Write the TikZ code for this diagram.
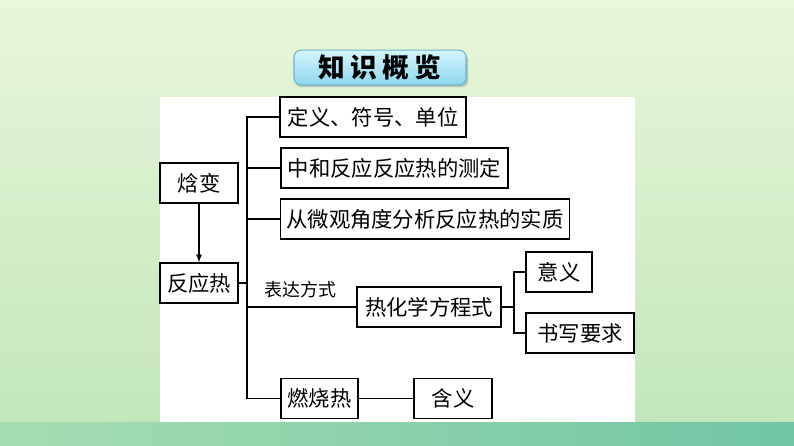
\documentclass[tikz,border=0pt]{standalone}
\usepackage{fontspec}
\usepackage{tikz}
\newfontfamily\cjk{Noto Sans CJK SC}

\tikzset{
  kbox/.style={draw=black, line width=1.1pt, fill=white, inner sep=0pt, minimum height=30pt, font=\cjk\fontsize{16}{16}\selectfont},
  kline/.style={line width=1pt, color=black},
}

\begin{document}
\begin{tikzpicture}[x=0.75pt,y=0.75pt,yscale=-1,xscale=1]
\useasboundingbox (0,0) rectangle (794,446);

%Background
\shade [top color={rgb, 255:red, 233; green, 246; blue, 216 }, bottom color={rgb, 255:red, 194; green, 231; blue, 189 }] (0,0) rectangle (794,422);
\shade [left color={rgb, 255:red, 166; green, 221; blue, 178 }, right color={rgb, 255:red, 112; green, 197; blue, 165 }] (0,422) rectangle (794,446);

%Title
\fill [rounded corners=5pt, color={rgb, 255:red, 170; green, 200; blue, 185 }] (295,53) rectangle (468,87);
\node (title) [draw={rgb, 255:red, 110; green, 180; blue, 205 }, line width=0.8pt, rounded corners=5pt, top color={rgb, 255:red, 214; green, 246; blue, 252 }, bottom color={rgb, 255:red, 140; green, 214; blue, 240 }, minimum width=129pt, minimum height=26pt, inner sep=0pt, font=\cjk\bfseries\fontsize{20}{20}\selectfont] at (380,67.5) {知\hspace{4pt}识\hspace{4pt}概\hspace{4pt}览};

%Panel
\fill [white] (160,97) rectangle (635,422);

%Boxes
\node (hanbian) [kbox, minimum width=58.5pt] at (199,183) {焓变};
\node (fyr) [kbox, minimum width=58.5pt] at (199,283) {反应热};
\node (dingyi) [kbox, minimum width=139.5pt] at (373,117) {定义、符号、单位};
\node (cedin) [kbox, minimum width=170pt] at (394.5,168) {中和反应反应热的测定};
\node (shizhi) [kbox, minimum width=216.5pt] at (425,219) {从微观角度分析反应热的实质};
\node (rhx) [kbox, minimum width=108pt] at (429,307) {热化学方程式};
\node (yiyi) [kbox, minimum width=49.5pt] at (559,272) {意义};
\node (shuxie) [kbox, minimum width=81pt] at (580,333) {书写要求};
\node (rsr) [kbox, minimum width=58pt] at (319.5,398.5) {燃烧热};
\node (hanyi) [kbox, minimum width=58.5pt] at (453,398.5) {含义};

% Text Node
\node (fangshi) [font=\cjk\fontsize{13.5}{13.5}\selectfont, inner sep=0.75pt] at (300,290) {表达方式};

%Trunk and bracket
\coordinate (trunk) at (247,398.5);
\coordinate (brk) at (514,333);

%Straight Lines
\draw [kline, -latex] (hanbian) -- (fyr);
\draw [kline] (fyr.east) -- (fyr.east -| trunk);
\draw [kline] (dingyi.west) -| (trunk) -- (rsr.west);
\draw [kline] (cedin.west) -- (cedin.west -| trunk);
\draw [kline] (shizhi.west) -- (shizhi.west -| trunk);
\draw [kline] (rhx.west) -- (rhx.west -| trunk);
\draw [kline] (rhx.east) -- (rhx.east -| brk);
\draw [kline] (yiyi.west) -| (brk) -- (shuxie.west);
\draw [kline] (rsr) -- (hanyi);

\end{tikzpicture}
\end{document}
